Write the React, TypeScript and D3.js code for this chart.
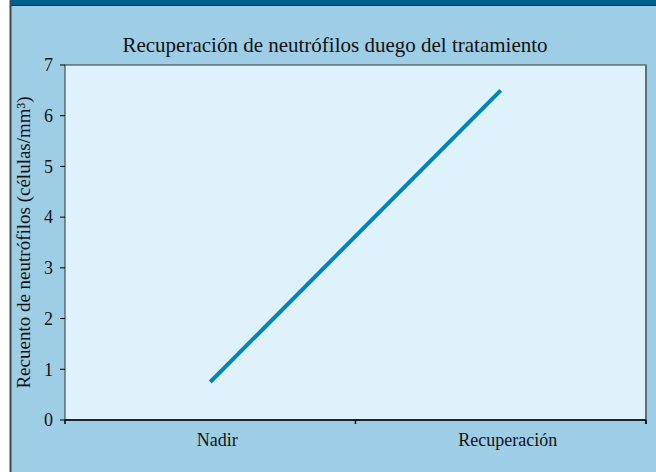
import React, { useEffect, useRef } from "react";
import * as d3 from "d3";

const categories = ["Nadir", "Recuperación"];
const values = [0.75, 6.5];
const yTicks = [0, 1, 2, 3, 4, 5, 6, 7];
const title = "Recuperación de neutrófilos duego del tratamiento";
const yLabel = "Recuento de neutrófilos (células/mm³)";

const FONT = "'Liberation Serif', 'Times New Roman', serif";

const App = () => {
  const ref = useRef<SVGSVGElement>(null);

  useEffect(() => {
    const width = 656,
      height = 472;
    const margin = { top: 65, right: 10, bottom: 52, left: 65 };
    const svg = d3.select(ref.current);
    svg.selectAll("*").remove();

    // frame
    svg.append("rect").attr("width", width).attr("height", height).attr("fill", "#ffffff");
    svg.append("rect").attr("x", 11).attr("y", 0).attr("width", width - 11).attr("height", height).attr("fill", "#9ecee6");
    svg.append("rect").attr("x", 11).attr("y", 0).attr("width", width - 11).attr("height", 5).attr("fill", "#00628c");
    svg.append("line").attr("x1", 11).attr("x2", width).attr("y1", 5.5).attr("y2", 5.5).attr("stroke", "#0b2a3c").attr("stroke-width", 1);
    svg.append("line").attr("x1", 10.5).attr("x2", 10.5).attr("y1", 0).attr("y2", height).attr("stroke", "#3a4a55").attr("stroke-width", 2);

    const x = d3
      .scaleBand()
      .domain(categories)
      .range([margin.left, width - margin.right]);
    const y = d3
      .scaleLinear()
      .domain([0, 7])
      .range([height - margin.bottom, margin.top]);

    const x0 = margin.left,
      x1 = width - margin.right,
      yb = height - margin.bottom;

    // plot area
    svg
      .append("rect")
      .attr("x", x0)
      .attr("y", margin.top)
      .attr("width", x1 - x0)
      .attr("height", yb - margin.top)
      .attr("fill", "#dff1fb")
      .attr("stroke", "#333")
      .attr("stroke-width", 1);
    svg.append("line").attr("x1", x1).attr("x2", x1).attr("y1", margin.top).attr("y2", yb + 4).attr("stroke", "#5c6f7c").attr("stroke-width", 2);
    svg.append("line").attr("x1", x0).attr("x2", x1).attr("y1", yb).attr("y2", yb).attr("stroke", "#000").attr("stroke-width", 1.5);

    // y axis
    const gy = svg.append("g");
    yTicks.forEach((t) => {
      gy.append("line").attr("x1", x0 - 5).attr("x2", x0).attr("y1", y(t)).attr("y2", y(t)).attr("stroke", "#000");
      gy.append("text")
        .attr("x", x0 - 12)
        .attr("y", y(t))
        .attr("dy", "0.35em")
        .attr("text-anchor", "end")
        .attr("font-family", FONT)
        .attr("font-size", 18)
        .attr("fill", "#111")
        .text(t);
    });

    // x axis
    const bounds = [x0, x0 + x.bandwidth(), x1];
    bounds.forEach((b) => {
      svg.append("line").attr("x1", b).attr("x2", b).attr("y1", yb).attr("y2", yb + 4).attr("stroke", "#000").attr("stroke-width", 1.5);
    });
    categories.forEach((c) => {
      svg
        .append("text")
        .attr("x", (x(c) as number) + x.bandwidth() / 2 + 7)
        .attr("y", yb + 26)
        .attr("text-anchor", "middle")
        .attr("font-family", FONT)
        .attr("font-size", 18)
        .attr("fill", "#111")
        .text(c);
    });

    // line
    const line = d3
      .line<number>()
      .x((d, i) => (x(categories[i]) as number) + x.bandwidth() / 2)
      .y((d) => y(d));
    svg
      .append("path")
      .datum(values)
      .attr("d", line)
      .attr("fill", "none")
      .attr("stroke", "#0084b9")
      .attr("stroke-width", 4);

    // title
    svg
      .append("text")
      .attr("x", 335)
      .attr("y", 52)
      .attr("text-anchor", "middle")
      .attr("font-family", FONT)
      .attr("font-size", 21)
      .attr("fill", "#111")
      .text(title);

    // y label
    svg
      .append("text")
      .attr("transform", `translate(30, ${(margin.top + yb) / 2}) rotate(-90)`)
      .attr("text-anchor", "middle")
      .attr("font-family", FONT)
      .attr("font-size", 19)
      .attr("fill", "#111")
      .text(yLabel);
  }, []);

  return (
    <div style={{ position: "fixed", left: 0, top: 0 }}>
      <svg ref={ref} width={656} height={472} style={{ display: "block" }} />
    </div>
  );
};

export default App;
